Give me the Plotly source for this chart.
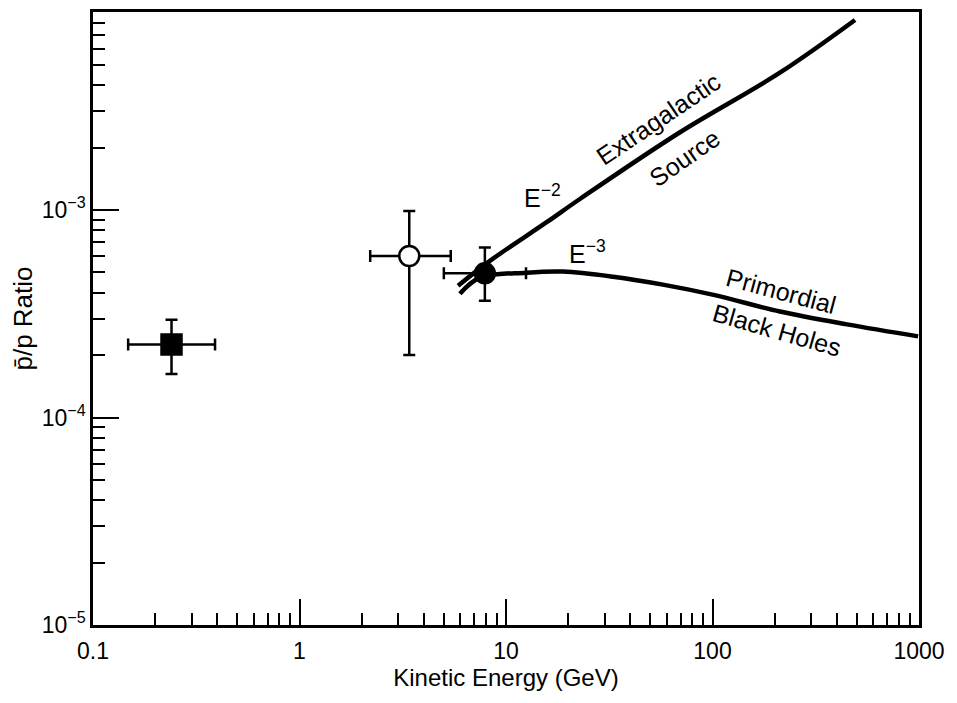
import math
import plotly.graph_objects as go

# ---- data ----
# Filled square point
sq_E = [0.24]
sq_E_lo = [0.148]
sq_E_hi = [0.39]
sq_R = [2.25e-4]
sq_R_lo = [1.62e-4]
sq_R_hi = [2.96e-4]

# Open circle point
oc_E = [3.4]
oc_E_lo = [2.2]
oc_E_hi = [5.4]
oc_R = [6.0e-4]
oc_R_lo = [2.0e-4]
oc_R_hi = [9.9e-4]

# Filled circle point
fc_E = [7.9]
fc_E_lo = [5.0]
fc_E_hi = [12.5]
fc_R = [4.95e-4]
fc_R_lo = [3.65e-4]
fc_R_hi = [6.6e-4]

# Extragalactic source curve (E^-2)
eg_E = [5.86, 8.36, 15.8, 22.8, 69.6, 212, 490]
eg_R = [4.32e-4, 5.69e-4, 8.76e-4, 1.13e-3, 2.37e-3, 4.59e-3, 8.24e-3]

# Primordial black holes curve (E^-3)
pbh_E = [5.98, 7.48, 12.6, 18.9, 33.0, 57.5, 100, 212, 448, 990]
pbh_R = [3.95e-4, 4.72e-4, 4.99e-4, 5.05e-4, 4.77e-4, 4.37e-4, 3.91e-4, 3.24e-4, 2.81e-4, 2.46e-4]

x_tickvals = [0.1, 1, 10, 100, 1000]
x_ticktext = ["0.1", "1", "10", "100", "1000"]
y_tickvals = [1e-5, 1e-4, 1e-3]
y_ticktext = ["10<sup>−5</sup>", "10<sup>−4</sup>", "10<sup>−3</sup>"]


def errs(v, lo, hi):
    return [h - a for a, h in zip(v, hi)], [a - l for a, l in zip(v, lo)]


FONT = "Liberation Sans, Arial, Helvetica, sans-serif"
fig = go.Figure()

fig.add_trace(go.Scatter(x=eg_E, y=eg_R, mode="lines", line=dict(color="black", width=4.5, shape="spline"),
                         showlegend=False, hoverinfo="skip"))
fig.add_trace(go.Scatter(x=pbh_E, y=pbh_R, mode="lines", line=dict(color="black", width=4.5, shape="spline"),
                         showlegend=False, hoverinfo="skip"))


def add_point(E, Elo, Ehi, R, Rlo, Rhi, symbol, fill):
    ex, exm = errs(E, Elo, Ehi)
    ey, eym = errs(R, Rlo, Rhi)
    fig.add_trace(go.Scatter(
        x=E, y=R, mode="markers",
        marker=dict(symbol=symbol, size=20, color=fill, line=dict(color="black", width=2.5)),
        error_x=dict(type="data", symmetric=False, array=ex, arrayminus=exm, color="black", thickness=2.5, width=6),
        error_y=dict(type="data", symmetric=False, array=ey, arrayminus=eym, color="black", thickness=2.5, width=6),
        showlegend=False))


add_point(sq_E, sq_E_lo, sq_E_hi, sq_R, sq_R_lo, sq_R_hi, "square", "black")
add_point(oc_E, oc_E_lo, oc_E_hi, oc_R, oc_R_lo, oc_R_hi, "circle", "white")
add_point(fc_E, fc_E_lo, fc_E_hi, fc_R, fc_R_lo, fc_R_hi, "circle", "black")

labels = [
    ("E<sup>−2</sup>", 15.1, 1.165e-3, 0),
    ("E<sup>−3</sup>", 24.8, 6.3e-4, 0),
    ("Extragalactic", 54.5, 2.74e-3, -34),
    ("Source", 73.0, 1.78e-3, -35),
    ("Primordial", 215, 4.08e-4, 15),
    ("Black Holes", 205, 2.64e-4, 16),
]
for txt, ex_, ry, ang in labels:
    fig.add_annotation(x=math.log10(ex_), y=math.log10(ry), xref="x", yref="y", text=txt,
                       showarrow=False, textangle=ang, font=dict(size=25, color="black", family=FONT))

axis_common = dict(type="log", showgrid=False, zeroline=False, color="black")
yrange = [-5, math.log10(9.0e-3)]
fig.update_layout(
    width=949, height=695,
    margin=dict(l=85, r=38, t=1, b=78),
    paper_bgcolor="white", plot_bgcolor="white",
    font=dict(family=FONT, size=23, color="black"),
    xaxis=dict(**axis_common, range=[-1, 3], showline=True, linewidth=2.5, linecolor="black", mirror=True,
               ticks="inside", ticklen=26, tickwidth=2, tickcolor="black",
               tickvals=x_tickvals, ticktext=x_ticktext, ticklabelstandoff=4,
               minor=dict(ticks="inside", ticklen=12, tickwidth=1.5, tickcolor="black", dtick="D1", showgrid=False),
               title=dict(text="Kinetic Energy (GeV)", standoff=4, font=dict(size=24))),
    yaxis=dict(**axis_common, range=yrange, showline=True, linewidth=2.5, linecolor="black",
               mirror=True, ticks="inside", ticklen=26, tickwidth=2, tickcolor="black",
               tickvals=y_tickvals, ticktext=y_ticktext,
               minor=dict(ticks="inside", ticklen=12, tickwidth=1.5, tickcolor="black", dtick="D1", showgrid=False),
               title=dict(text="p\u0304/p Ratio", standoff=6, font=dict(size=26))),
    xaxis2=dict(**axis_common, range=[-1, 3], overlaying="x", side="top", anchor="y", ticks="inside",
                ticklen=27, tickwidth=2, tickcolor="black", tickvals=[1, 10, 100], showticklabels=False,
                showline=False),
    yaxis2=dict(**axis_common, range=yrange, overlaying="y", side="right", anchor="x",
                ticks="inside", ticklen=29, tickwidth=2, tickcolor="black", tickvals=[1e-4, 1e-3],
                showticklabels=False, showline=False),
)

fig.write_html("out.html")
